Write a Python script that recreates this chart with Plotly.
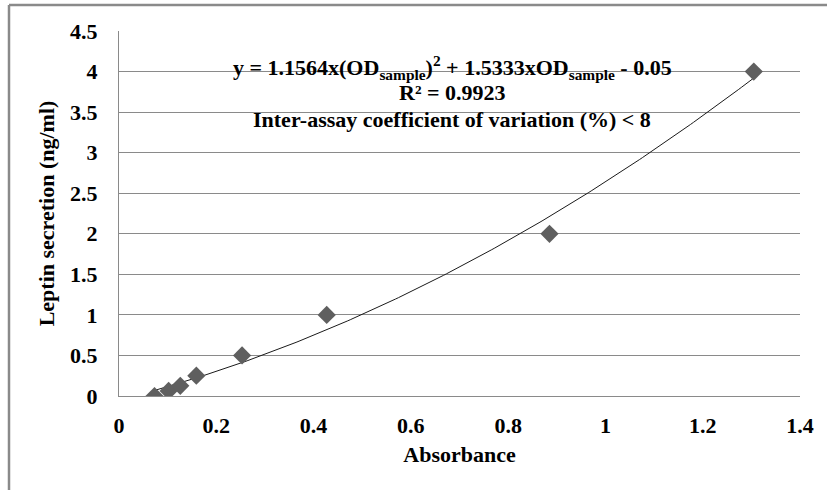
import numpy as np
import plotly.graph_objects as go

# Data
absorbance = [0.073, 0.102, 0.126, 0.159, 0.253, 0.427, 0.885, 1.305]
leptin = [0.0, 0.0625, 0.125, 0.25, 0.5, 1.0, 2.0, 4.0]

# Polynomial trendline coefficients shown on the chart (a*x^2 + b*x + c)
trend_coef = [1.1564, 1.5333, -0.05]

x_ticks = [0, 0.2, 0.4, 0.6, 0.8, 1, 1.2, 1.4]
x_tick_text = ["0", "0.2", "0.4", "0.6", "0.8", "1", "1.2", "1.4"]
y_ticks = [0, 0.5, 1, 1.5, 2, 2.5, 3, 3.5, 4, 4.5]
y_tick_text = ["0", "0.5", "1", "1.5", "2", "2.5", "3", "3.5", "4", "4.5"]

eq_lines = [
    "y = 1.1564x(OD<sub>sample</sub>)<sup>2</sup> + 1.5333xOD<sub>sample</sub> - 0.05",
    "R² = 0.9923",
    "Inter-assay coefficient of variation (%) < 8",
]
eq_line_y = [4.056, 3.748, 3.415]

xt = np.linspace(min(absorbance), max(absorbance), 200)
yt = np.polyval(trend_coef, xt)

FONT = "Liberation Serif"
GRID = "#8a8a8a"
SZ = 22

fig = go.Figure()
fig.add_trace(go.Scatter(
    x=xt, y=yt, mode="lines",
    line=dict(color="#1a1a1a", width=1),
    hoverinfo="skip", showlegend=False,
))
fig.add_trace(go.Scatter(
    x=absorbance, y=leptin, mode="markers",
    marker=dict(symbol="diamond", size=14, color="#5f5f5f", line=dict(width=0)),
    showlegend=False,
))

for txt, yy in zip(eq_lines, eq_line_y):
    fig.add_annotation(
        x=0.6846, y=yy, xref="x", yref="y", text=txt,
        showarrow=False, align="center", xanchor="center", yanchor="middle",
        font=dict(family=FONT, size=SZ, color="#000000", weight="bold"),
    )

# outer chart-area border (extends past right/bottom of the picture)
bx = -110 / 681
by = 1 + 26 / 365
fig.add_shape(type="line", xref="paper", yref="paper",
              x0=bx, x1=1.2, y0=by, y1=by,
              line=dict(color="#8a8a8a", width=2.5))
fig.add_shape(type="line", xref="paper", yref="paper",
              x0=bx, x1=bx, y0=by, y1=-0.5,
              line=dict(color="#8a8a8a", width=2.5))

fig.update_layout(
    width=827, height=490,
    margin=dict(l=119, r=27, t=31, b=94, autoexpand=False),
    paper_bgcolor="white", plot_bgcolor="white",
    font=dict(family=FONT, color="#000000"),
)
fig.update_xaxes(
    range=[0, 1.4], tickvals=x_ticks, ticktext=x_tick_text,
    showgrid=False, zeroline=False, automargin=False,
    showline=True, linecolor=GRID, linewidth=1,
    ticks="", ticklabelstandoff=10,
    tickfont=dict(family=FONT, size=SZ, color="#000000", weight="bold"),
    title=dict(text="Absorbance", standoff=9,
               font=dict(family=FONT, size=SZ, color="#000000", weight="bold")),
)
fig.update_yaxes(
    range=[0, 4.5], tickvals=y_ticks, ticktext=y_tick_text,
    showgrid=True, gridcolor=GRID, gridwidth=1, zeroline=False, automargin=False,
    showline=True, linecolor=GRID, linewidth=1,
    ticks="", ticklabelstandoff=16,
    tickfont=dict(family=FONT, size=SZ, color="#000000", weight="bold"),
    title=dict(text="Leptin secretion (ng/ml)", standoff=9,
               font=dict(family=FONT, size=SZ, color="#000000", weight="bold")),
)

fig.write_html("out.html", post_script="document.body.style.margin='0';",
               config={"displayModeBar": False})
